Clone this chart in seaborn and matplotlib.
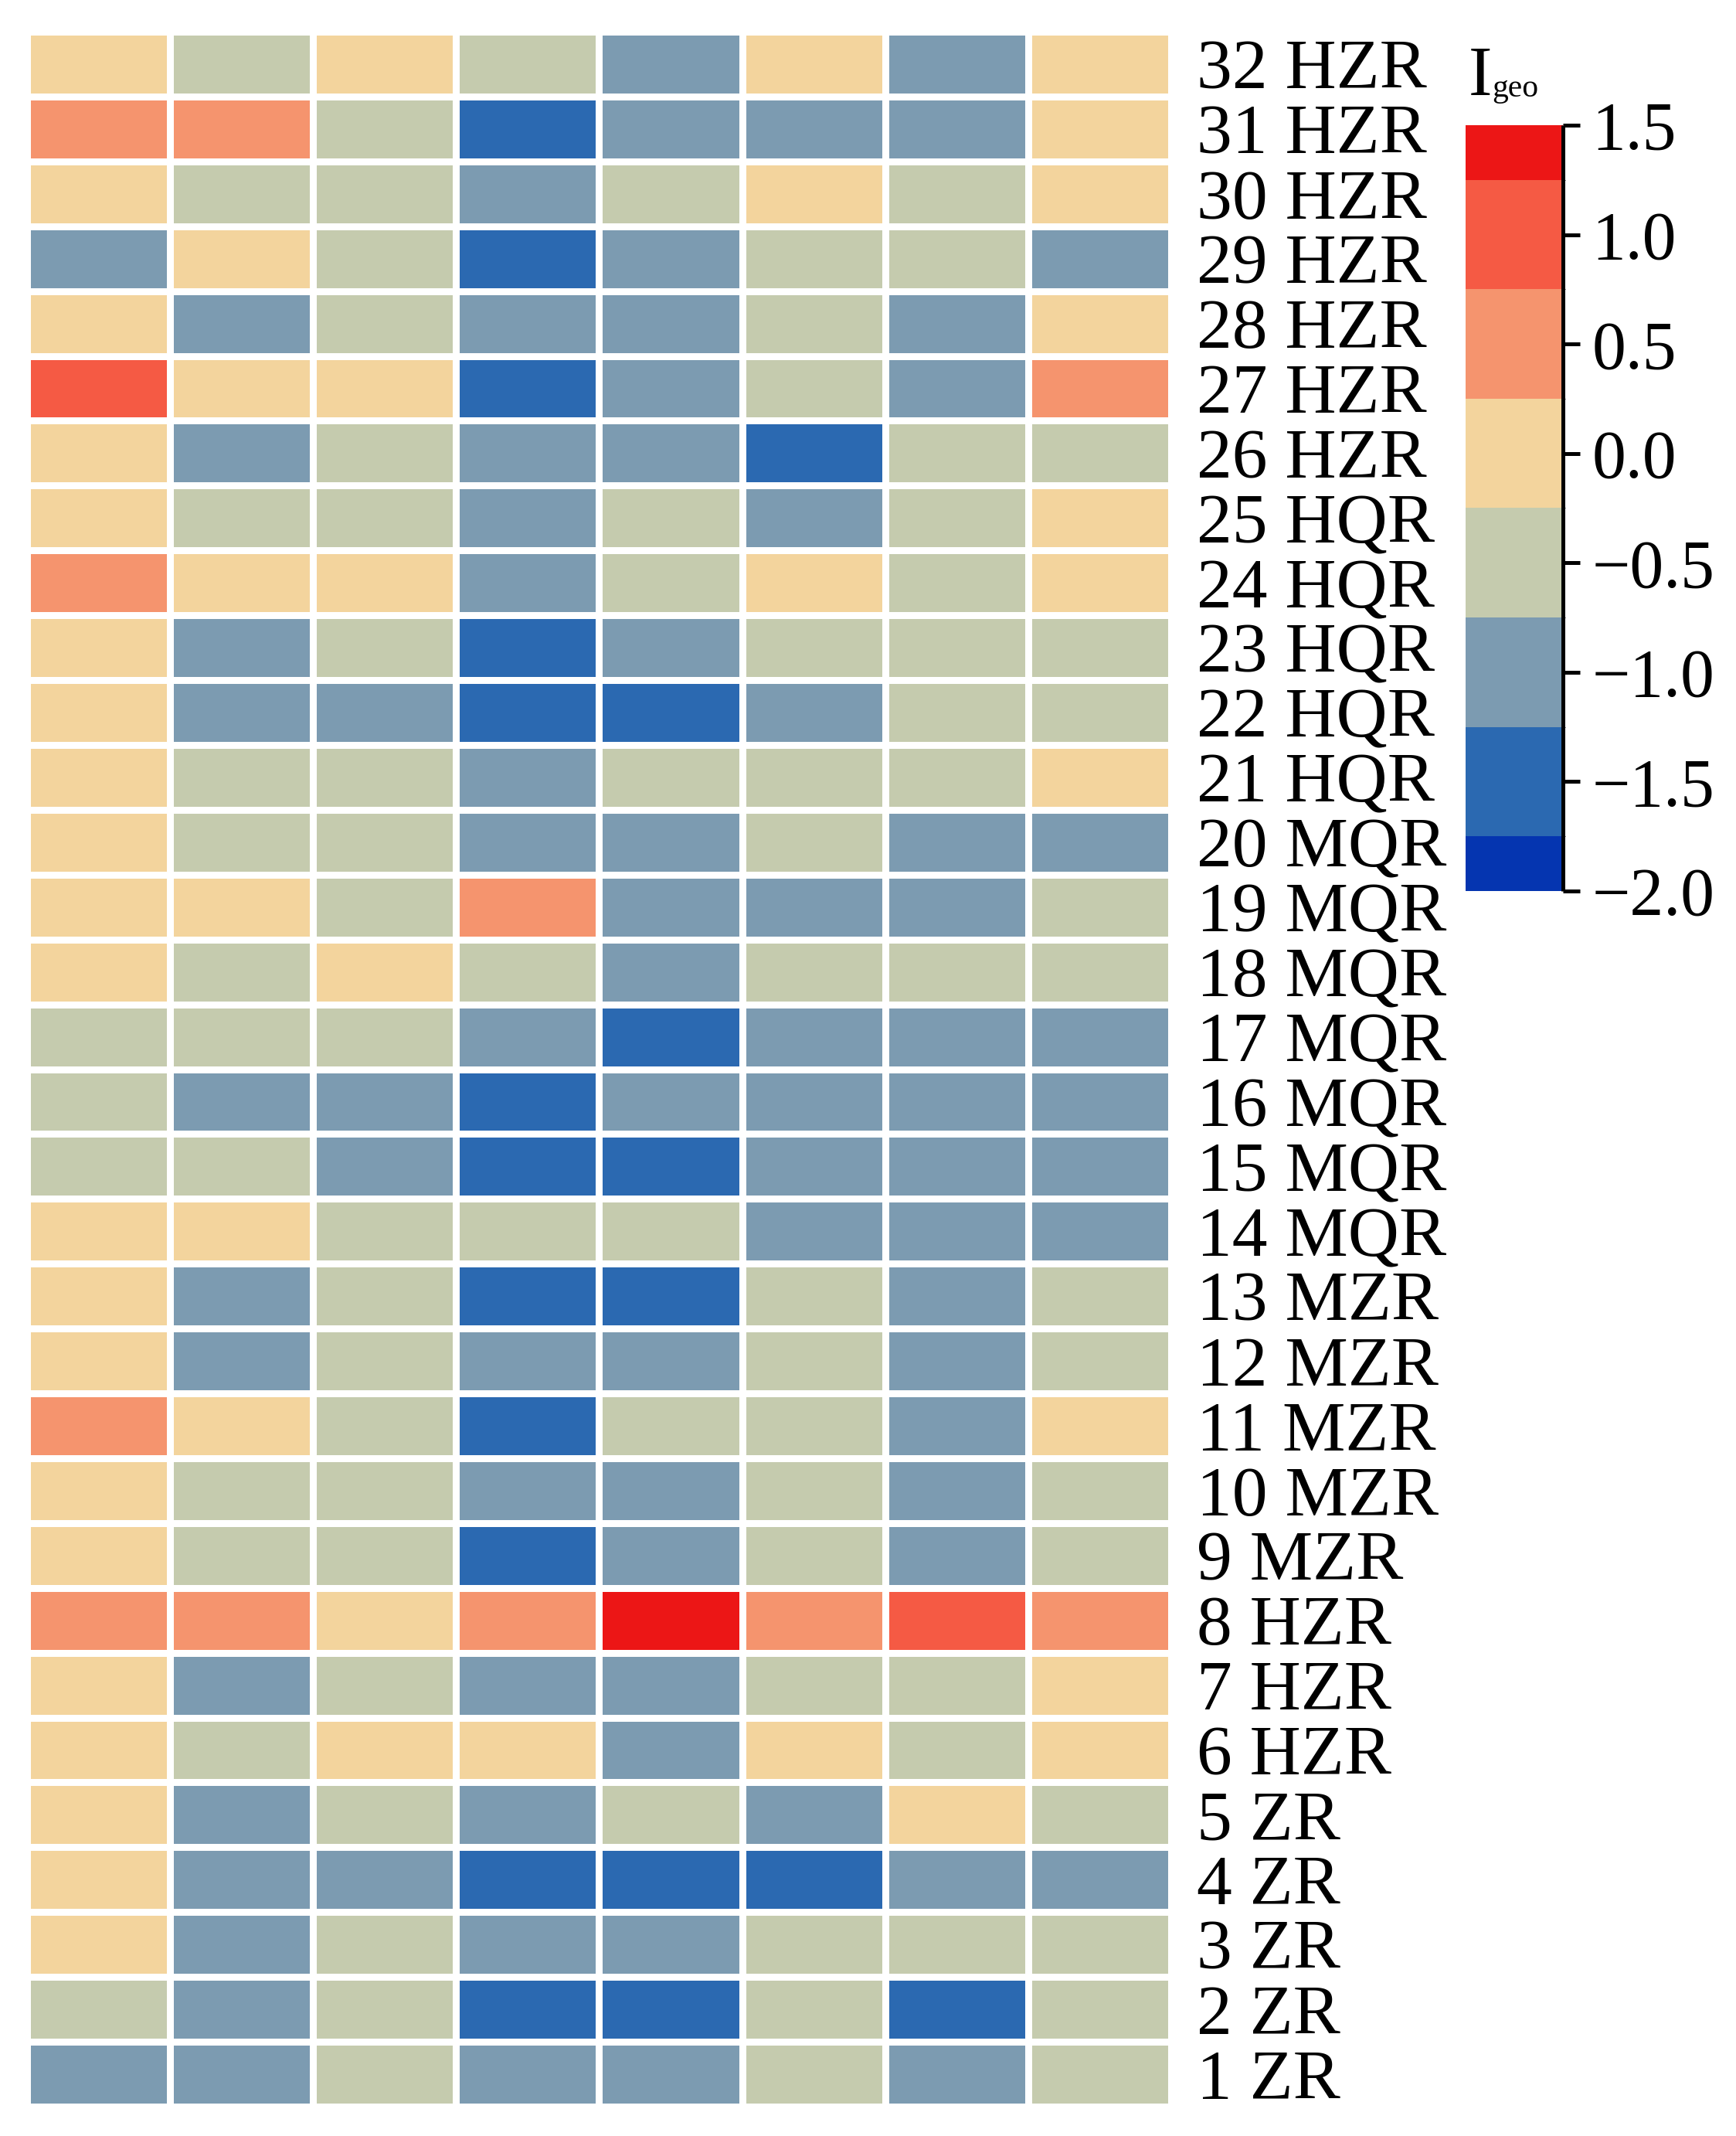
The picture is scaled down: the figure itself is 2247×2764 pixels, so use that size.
import pandas as pd
import seaborn as sns
import matplotlib.pyplot as plt
from matplotlib.colors import ListedColormap, BoundaryNorm

# sites listed top (32) to bottom (1)
sites = [32, 31, 30, 29, 28, 27, 26, 25, 24, 23, 22, 21, 20, 19, 18, 17,
         16, 15, 14, 13, 12, 11, 10, 9, 8, 7, 6, 5, 4, 3, 2, 1]
zones = ['HZR', 'HZR', 'HZR', 'HZR', 'HZR', 'HZR', 'HZR',
         'HQR', 'HQR', 'HQR', 'HQR', 'HQR',
         'MQR', 'MQR', 'MQR', 'MQR', 'MQR', 'MQR', 'MQR',
         'MZR', 'MZR', 'MZR', 'MZR', 'MZR',
         'HZR', 'HZR', 'HZR',
         'ZR', 'ZR', 'ZR', 'ZR', 'ZR']

# Igeo per element column (read off the colour classes), site 32 -> 1
col1 = [0, .5, 0, -1, 0, 1, 0, 0, .5, 0, 0, 0, 0, 0, 0, -.5,
        -.5, -.5, 0, 0, 0, .5, 0, 0, .5, 0, 0, 0, 0, 0, -.5, -1]
col2 = [-.5, .5, -.5, 0, -1, 0, -1, -.5, 0, -1, -1, -.5, -.5, 0, -.5, -.5,
        -1, -.5, 0, -1, -1, 0, -.5, -.5, .5, -1, -.5, -1, -1, -1, -1, -1]
col3 = [0, -.5, -.5, -.5, -.5, 0, -.5, -.5, 0, -.5, -1, -.5, -.5, -.5, 0, -.5,
        -1, -1, -.5, -.5, -.5, -.5, -.5, -.5, 0, -.5, 0, -.5, -1, -.5, -.5, -.5]
col4 = [-.5, -1.5, -1, -1.5, -1, -1.5, -1, -1, -1, -1.5, -1.5, -1, -1, .5, -.5, -1,
        -1.5, -1.5, -.5, -1.5, -1, -1.5, -1, -1.5, .5, -1, 0, -1, -1.5, -1, -1.5, -1]
col5 = [-1, -1, -.5, -1, -1, -1, -1, -.5, -.5, -1, -1.5, -.5, -1, -1, -1, -1.5,
        -1, -1.5, -.5, -1.5, -1, -.5, -1, -1, 1.5, -1, -1, -.5, -1.5, -1, -1.5, -1]
col6 = [0, -1, 0, -.5, -.5, -.5, -1.5, -1, 0, -.5, -1, -.5, -.5, -1, -.5, -1,
        -1, -1, -1, -.5, -.5, -.5, -.5, -.5, .5, -.5, 0, -1, -1.5, -.5, -.5, -.5]
col7 = [-1, -1, -.5, -.5, -1, -1, -.5, -.5, -.5, -.5, -.5, -.5, -1, -1, -.5, -1,
        -1, -1, -1, -1, -1, -1, -1, -1, 1, -.5, -.5, 0, -1, -.5, -1.5, -1]
col8 = [0, 0, 0, -1, 0, .5, -.5, 0, 0, -.5, -.5, 0, -1, -.5, -.5, -1,
        -1, -1, -1, -.5, -.5, 0, -.5, -.5, .5, 0, 0, -.5, -1, -.5, -.5, -.5]

cbar_ticks = [-2.0, -1.5, -1.0, -0.5, 0.0, 0.5, 1.0, 1.5]
bounds = [-2.0, -1.75, -1.25, -0.75, -0.25, 0.25, 0.75, 1.25, 1.5]
colors = ['#0535b0', '#2b69b1', '#7c9bb1', '#c5cbae',
          '#f3d49d', '#f5946e', '#f55a44', '#ec1616']

labels = [f'{s} {z}' for s, z in zip(sites, zones)]
df = pd.DataFrame({'c1': col1, 'c2': col2, 'c3': col3, 'c4': col4,
                   'c5': col5, 'c6': col6, 'c7': col7, 'c8': col8}, index=labels)

plt.rcParams['font.family'] = ['Liberation Serif', 'DejaVu Serif']

cmap = ListedColormap(colors)
norm = BoundaryNorm(bounds, ncolors=len(colors))

fig = plt.figure(figsize=(22.47, 27.64), dpi=100)
ax = fig.add_axes([0.0156, 0.01375, 0.659, 0.9714])
cax = fig.add_axes([0.8442, 0.5829, 0.0561, 0.3585])

sns.heatmap(df, ax=ax, cbar_ax=cax, cmap=cmap, norm=norm,
            linewidths=5.2, linecolor='white', xticklabels=False,
            cbar_kws={'spacing': 'proportional', 'ticks': cbar_ticks})

ax.yaxis.tick_right()
ax.tick_params(axis='y', length=0, pad=24, labelsize=66, rotation=0)
ax.set_ylabel('')

cbar = ax.collections[0].colorbar
cbar.outline.set_visible(False)
cbar.ax.plot([1, 1], [0, 1], transform=cbar.ax.transAxes, color='black',
             lw=3.6, clip_on=False, solid_capstyle='butt')
cbar.ax.set_yticks(cbar_ticks)
cbar.ax.set_yticklabels([f'{t:.1f}'.replace('-', '\u2212') for t in cbar_ticks])
cbar.ax.tick_params(length=16, width=3.6, pad=11, labelsize=63, direction='out')

# colourbar title: I with small "geo"
fig.text(1901 / 2247, 1 - 123 / 2764, 'I', fontsize=66, ha='left', va='baseline')
fig.text(1931 / 2247, 1 - 125 / 2764, 'geo', fontsize=30, ha='left', va='baseline')

fig.savefig('out.png', dpi=100)
